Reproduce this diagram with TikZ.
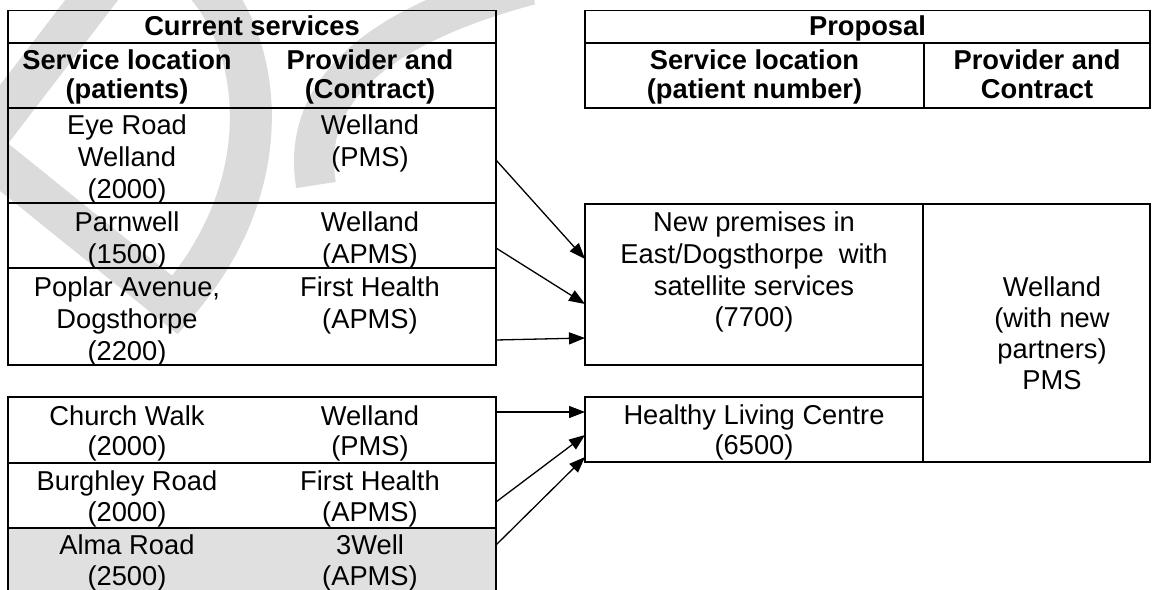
\documentclass[tikz,border=0pt]{standalone}
\usepackage{fontspec}
\setmainfont{Liberation Sans}
\usetikzlibrary{arrows.meta}
\begin{document}
\begin{tikzpicture}[x=1pt,y=-1pt,
  box/.style={draw, line width=1.8pt, rectangle, inner sep=0pt, outer sep=0pt},
  txt/.style={anchor=north, align=center, inner sep=0pt, yshift=18.5pt,
    font=\fontsize{27.3}{31.8}\selectfont, execute at begin node={\rule{0pt}{25pt}}},
  lowtxt/.style={txt, font=\fontsize{27.3}{30.5}\selectfont},
  hd/.style={txt, font=\fontsize{27.3}{29}\selectfont\bfseries},
  ttl/.style={anchor=base, inner sep=0pt, font=\fontsize{27.3}{29}\selectfont\bfseries},
  arr/.style={line width=1.3pt, -{Triangle[length=16pt,width=12pt]}},
  wm/.style={draw=black!14, line width=42pt, line join=miter}
]
\useasboundingbox (0,0) rectangle (1153,589);
\clip (0,0) rectangle (1153,589);
% watermark
\draw[wm] (-21,147) -- (130,-50) .. controls (230,-60) and (320,140) .. (175,305) -- cycle;
\draw[wm, line width=40pt] (316,185) .. controls (300,90) and (380,25) .. (530,-15);

% left table, upper part
\node[box, minimum width=488pt, minimum height=32.5pt] (cstitle) at (252,26.75) {};
\node[box, minimum width=488pt, minimum height=65pt] (cshead) at (252,75.5) {};
\node[box, minimum width=488pt, minimum height=95pt] (eye) at (252,155.5) {};
\node[box, minimum width=488pt, minimum height=65pt] (parn) at (252,235.5) {};
\node[box, minimum width=488pt, minimum height=97pt] (poplar) at (252,316.5) {};
% left table, lower part
\node[box, minimum width=488pt, minimum height=66pt] (church) at (252,430) {};
\node[box, minimum width=488pt, minimum height=65pt] (burgh) at (252,495.5) {};
\node[box, fill=black!12, minimum width=488pt, minimum height=64pt] (alma) at (252,560) {};
% right table
\node[box, minimum width=565pt, minimum height=32.5pt] (prtitle) at (867.5,26.75) {};
\node[box, minimum width=339pt, minimum height=65pt] (prloc) at (754.5,75.5) {};
\node[box, minimum width=226pt, minimum height=65pt] (prprov) at (1037,75.5) {};
\node[box, minimum width=338pt, minimum height=161pt] (newp) at (754,284.5) {};
\node[box, minimum width=227pt, minimum height=258pt] (welbox) at (1036.5,333) {};
\node[box, minimum width=338pt, minimum height=65pt] (hlc) at (754,429.5) {};

% texts
\node[ttl] (t1) at (252,35) {Current services};
\node[hd] (t2) at (127,68) {Service location\\(patients)};
\node[hd] (t3) at (370,68) {Provider and\\(Contract)};
\node[txt] (t4) at (127,133) {Eye Road\\Welland\\(2000)};
\node[txt] (t5) at (370,133) {Welland\\(PMS)};
\node[txt] (t6) at (127,230) {Parnwell\\(1500)};
\node[txt] (t7) at (370,230) {Welland\\(APMS)};
\node[txt] (t8) at (127,295) {Poplar Avenue,\\Dogsthorpe\\(2200)};
\node[txt] (t9) at (370,295) {First Health\\(APMS)};
\node[lowtxt] (t10) at (127,424) {Church Walk\\(2000)};
\node[lowtxt] (t11) at (370,424) {Welland\\(PMS)};
\node[lowtxt] (t12) at (127,489.5) {Burghley Road\\(2000)};
\node[lowtxt] (t13) at (370,489.5) {First Health\\(APMS)};
\node[lowtxt] (t14) at (127,553.5) {Alma Road\\(2500)};
\node[lowtxt] (t15) at (370,553.5) {3Well\\(APMS)};
\node[ttl] (t16) at (867.5,35) {Proposal};
\node[hd] (t17) at (754.5,68) {Service location\\(patient number)};
\node[hd] (t18) at (1037,68) {Provider and\\Contract};
\node[txt] (t19) at (754,230) {New premises in\\East/Dogsthorpe~ with\\satellite services\\(7700)};
\node[lowtxt] (t20) at (754,423) {Healthy Living Centre\\(6500)};
\node[txt, font=\fontsize{27.3}{31}\selectfont] (t21) at (1052,295) {Welland\\(with new\\partners)\\PMS};

% connectors
\draw[arr] ([yshift=-4.5pt]eye.east) -- ([yshift=25.5pt]newp.west);
\draw[arr] ([yshift=-12.5pt]parn.east) -- ([yshift=-19.5pt]newp.west);
\draw[arr] ([yshift=-23.5pt]poplar.east) -- ([yshift=-53.5pt]newp.west);
\draw[arr] ([yshift=18pt]church.east) -- ([yshift=17.5pt]hlc.west);
\draw[arr] ([yshift=-6.5pt]burgh.east) -- ([yshift=-5.5pt]hlc.west);
\draw[arr] ([yshift=15pt]alma.east) -- ([yshift=-27.5pt]hlc.west);
\end{tikzpicture}
\end{document}
